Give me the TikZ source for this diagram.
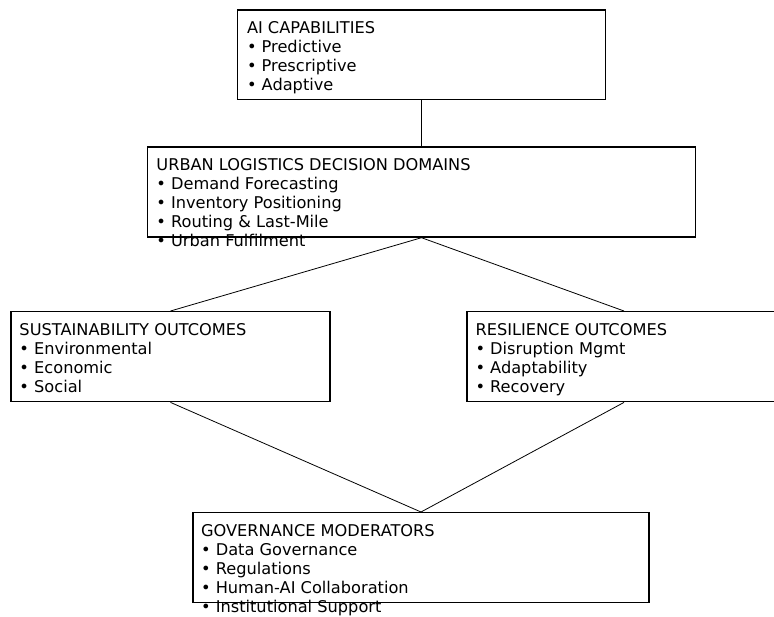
\documentclass[tikz,border=0pt]{standalone}
\usepackage{fontspec}
\setmainfont{DejaVu Sans}
\usetikzlibrary{positioning}

\begin{document}
\begin{tikzpicture}[
	x=1pt, y=-1pt,
	% --- STYLES ---
	frame/.style={
		draw,
		line width=1.4pt,
		inner sep=0pt,
		minimum height=90pt
	},
	listtext/.style={
		anchor=north west,
		inner sep=0pt,
		align=left,
		font=\fontsize{16.2}{19}\selectfont
	},
	link/.style={
		line width=0.8pt
	}
	]
	\useasboundingbox (0,0) rectangle (774,616);

	% --- Boxes ---
	\node[frame, minimum width=368pt, minimum height=89.5pt] (ai) at (421.5,54.75) {};
	\node[frame, minimum width=548pt] (domains) at (421.5,192) {};
	\node[frame, minimum width=319pt] (sust) at (170.5,356.7) {};
	\node[frame, minimum width=314pt] (resil) at (624,356.7) {};
	\node[frame, minimum width=456pt] (gov) at (421,557.7) {};

	% --- Texts ---
	\node[listtext] (ai_txt) at ([xshift=10pt, yshift=-10.7pt]ai.north west)
		{\strut AI CAPABILITIES\\• Predictive\\• Prescriptive\\• Adaptive};
	\node[listtext] (domains_txt) at ([xshift=9.4pt, yshift=-11pt]domains.north west)
		{\strut URBAN LOGISTICS DECISION DOMAINS\\• Demand Forecasting\\• Inventory Positioning\\• Routing \& Last-Mile\\• Urban Fulfilment};
	\node[listtext] (sust_txt) at ([xshift=9pt, yshift=-10.7pt]sust.north west)
		{\strut SUSTAINABILITY OUTCOMES\\• Environmental\\• Economic\\• Social};
	\node[listtext] (resil_txt) at ([xshift=9pt, yshift=-10.7pt]resil.north west)
		{\strut RESILIENCE OUTCOMES\\• Disruption Mgmt\\• Adaptability\\• Recovery};
	\node[listtext] (gov_txt) at ([xshift=8.6pt, yshift=-10.7pt]gov.north west)
		{\strut GOVERNANCE MODERATORS\\• Data Governance\\• Regulations\\• Human-AI Collaboration\\• Institutional Support};

	% --- Connections ---
	\draw[line width=1.1pt] (ai.south) -- (domains.north);
	\draw[link] (domains.south) -- (sust.north);
	\draw[link] (domains.south) -- (resil.north);
	\draw[link] (sust.south) -- (gov.north);
	\draw[link] (resil.south) -- (gov.north);

\end{tikzpicture}
\end{document}
